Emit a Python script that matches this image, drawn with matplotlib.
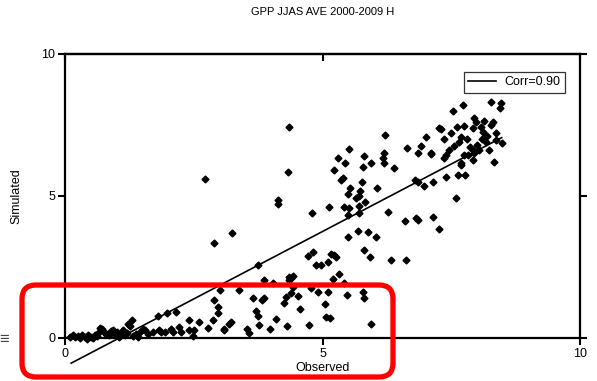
import numpy as np
import matplotlib
matplotlib.use("Agg")
import matplotlib.pyplot as plt
from matplotlib.patches import FancyBboxPatch
from matplotlib.transforms import IdentityTransform

plt.rcParams["font.family"] = ["Liberation Sans", "DejaVu Sans"]

# observed vs simulated GPP
obs_x = [
    0.10, 0.15, 0.20, 0.25, 0.30, 0.33, 0.38, 0.42, 0.45, 0.50, 0.55, 0.58, 0.62, 0.65, 0.68, 0.72,
    0.75, 0.80, 0.85, 0.90, 0.93, 0.97, 1.00, 1.05, 1.08, 1.13, 1.17, 1.20, 1.22, 1.26, 1.30, 1.33,
    1.38, 1.42, 1.46, 1.52, 1.55, 1.62, 1.70, 1.80, 1.82, 1.86, 1.95, 1.98, 2.06, 2.10, 2.16, 2.21,
    2.25, 2.40, 2.40, 2.50, 2.49, 2.60, 2.78, 2.87, 2.90, 2.97, 2.97, 3.00, 3.09, 3.09, 3.18, 3.22,
    3.38, 3.53, 3.57, 3.65, 3.71, 3.75, 3.77, 3.82, 3.86, 3.86, 3.98, 4.04, 4.10, 4.25, 4.29, 4.31,
    4.35, 4.39, 4.42, 4.35, 4.39, 4.42, 4.52, 4.56, 4.74, 4.78, 4.91, 5.05, 5.07, 5.15, 5.10, 5.20,
    5.32, 5.42, 5.48, 5.79, 5.80, 5.94,
    3.24, 3.75, 4.72, 4.82, 4.87, 4.97, 5.10, 5.17, 5.22, 5.26, 5.50, 5.69, 5.88, 6.04, 5.80, 5.92,
    6.33, 6.62,
    2.72, 2.90, 4.14, 4.14, 4.33, 4.35, 4.80, 5.13, 5.42, 5.51, 5.71, 5.50, 5.71, 6.27, 6.60, 6.82,
    6.85, 7.15, 7.26,
    6.21, 7.00, 7.26, 6.64, 6.91, 6.85, 7.10, 5.51, 5.30, 5.81, 6.19, 6.17, 5.44, 5.94, 6.19, 5.22,
    5.79, 6.39, 5.36, 5.40, 5.77, 5.53, 6.06, 5.73, 5.50, 5.65, 5.71, 5.83, 6.80, 6.85, 6.97, 7.15,
    8.27, 8.47, 8.45, 7.73, 7.53, 7.94, 7.98, 8.14, 8.31, 7.30, 7.61, 7.75, 7.92, 8.08, 8.27, 7.50,
    7.69, 8.12, 8.37, 8.37, 7.36, 7.65, 8.17, 8.49, 7.11, 7.46, 7.40, 7.36, 7.86, 7.92, 7.94, 8.04,
    8.23, 7.75, 7.92, 7.69, 8.33, 7.40, 7.63, 7.77, 7.59, 7.83, 7.69, 8.00, 8.10, 8.20, 7.80, 7.55,
]
sim_y = [
    0.05, 0.10, 0.02, 0.08, 0.00, 0.12, 0.05, -0.02, 0.10, 0.05, 0.00, 0.12, 0.08, 0.18, 0.35, 0.30,
    0.22, 0.15, 0.10, 0.25, 0.28, 0.15, 0.20, 0.05, 0.12, 0.28, 0.10, 0.18, 0.50, 0.42, 0.63, 0.08,
    0.15, 0.05, 0.20, 0.30, 0.28, 0.15, 0.20, 0.78, 0.28, 0.20, 0.22, 0.88, 0.30, 0.20, 0.92, 0.40,
    0.20, 0.65, 0.28, 0.28, 0.07, 0.56, 0.35, 0.63, 1.34, 1.09, 0.88, 1.69, 0.28, 0.32, 0.49, 0.56,
    1.69, 0.32, 0.18, 1.41, 0.95, 0.77, 0.46, 1.34, 1.41, 2.04, 0.32, 1.94, 0.67, 1.23, 1.44, 0.42,
    2.15, 2.10, 2.18, 2.04, 1.58, 1.80, 1.48, 1.02, 0.46, 1.76, 1.62, 1.20, 0.74, 0.70, 1.62, 2.08,
    2.25, 1.94, 1.51, 1.62, 1.41, 0.49,
    3.70, 2.57, 2.89, 3.03, 2.57, 2.57, 2.68, 2.96, 2.92, 2.85, 3.56, 3.77, 3.73, 3.56, 3.10, 2.85,
    2.75, 2.75,
    5.60, 3.35, 4.86, 4.72, 5.85, 7.43, 4.40, 4.61, 4.61, 4.58, 4.65, 4.33, 4.40, 4.44, 4.12, 4.23,
    4.15, 4.26, 3.84,
    7.15, 7.08, 7.39, 6.69, 6.76, 6.51, 6.48, 6.65, 6.34, 6.41, 6.51, 6.34, 6.16, 6.16, 6.16, 5.92,
    6.02, 5.99, 5.56, 5.63, 5.49, 5.28, 5.28, 5.18, 5.07, 4.93, 5.00, 4.79, 5.56, 5.49, 5.35, 5.49,
    8.31, 8.27, 8.10, 8.20, 7.99, 7.75, 7.60, 7.64, 7.60, 7.36, 7.43, 7.46, 7.39, 7.43, 7.50, 7.22,
    7.08, 7.25, 7.22, 6.97, 7.00, 6.90, 6.90, 6.87, 6.51, 6.62, 6.44, 6.34, 6.73, 6.62, 6.51, 6.62,
    6.62, 6.44, 6.27, 6.09, 6.20, 5.67, 5.74, 5.74, 4.93, 6.44, 6.16, 6.80, 7.00, 7.10, 7.00, 6.75,
]

# fitted line
fit_x = [0.12, 8.48]
fit_slope = 0.95
fit_intercept = -1.0
corr_label = "Corr=0.90"

title_text = "GPP JJAS AVE 2000-2009 H"
ticks = [0, 5, 10]

fig = plt.figure(figsize=(5.97, 3.81), dpi=100)
ax = fig.add_axes([65 / 597, 1 - 338 / 381, 515 / 597, 284 / 381])

ax.plot(obs_x, sim_y, linestyle="none", marker="D", markersize=3.5, color="black", clip_on=False)
fit_y = [fit_slope * x + fit_intercept for x in fit_x]
ax.plot(fit_x, fit_y, color="black", linewidth=1.2, label=corr_label, clip_on=False)

ax.set_xlim(0, 10)
ax.set_ylim(0, 10)
ax.set_xticks(ticks)
ax.set_yticks(ticks)
for s in ax.spines.values():
    s.set_linewidth(1.6)
ax.tick_params(direction="out", length=5, width=1.5, labelsize=9, right=True, pad=2)

top = ax.secondary_xaxis("top")
top.set_xticks(ticks)
top.tick_params(direction="in", length=5, width=1.5, labeltop=False)
top.spines["top"].set_linewidth(1.6)

ax.set_xlabel("Observed", fontsize=9)
ax.xaxis.set_label_coords(0.5, -0.085)
ax.set_ylabel("Simulated", fontsize=9)
ax.yaxis.set_label_coords(-0.083, 0.5)
fig.text((65 + 580) / 2 / 597, 1 - 12 / 381, title_text, fontsize=8, ha="center", va="center")

leg = ax.legend(loc="upper right", bbox_to_anchor=(0.971, 0.937), fontsize=9, fancybox=False,
                frameon=True, handlelength=2.2, borderpad=0.35, handletextpad=0.7, borderaxespad=0)
leg.get_frame().set_edgecolor("black")
leg.get_frame().set_linewidth(0.9)

# red highlight box
box = FancyBboxPatch((22, 4), 371, 92, boxstyle="round,pad=0,rounding_size=14",
                     linewidth=3.8, edgecolor="#ff0000", facecolor="none",
                     transform=IdentityTransform(), zorder=10)
fig.add_artist(box)
fig.text(4 / 597, 1 - 340 / 381, "\u2261", fontsize=12, color="#444444", ha="center", va="center")

fig.savefig("out.png", dpi=100)
